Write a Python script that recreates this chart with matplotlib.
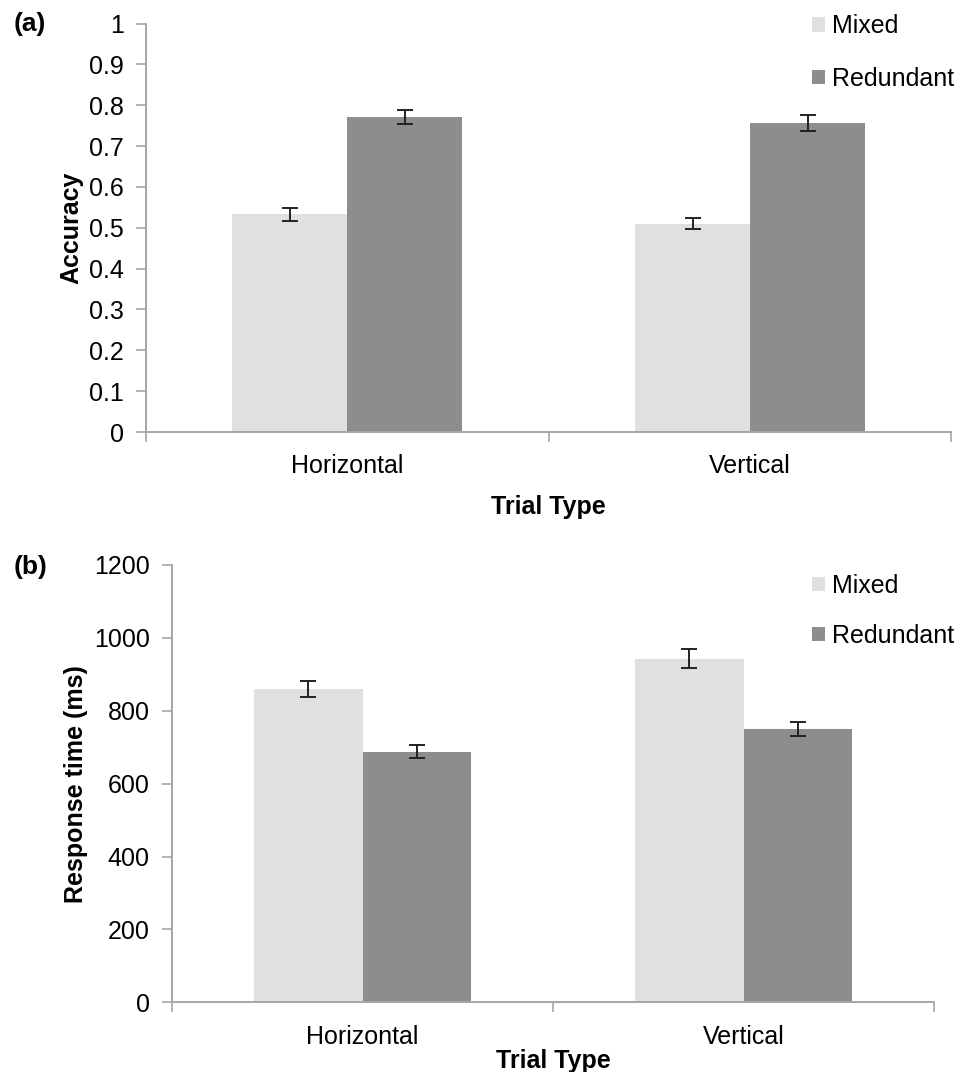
import matplotlib
matplotlib.use("Agg")
import matplotlib.pyplot as plt
import numpy as np
from matplotlib.patches import Patch

plt.rcParams["font.family"] = ["Liberation Sans", "DejaVu Sans"]

# data
trial_types = ["Horizontal", "Vertical"]
conditions = ["Mixed", "Redundant"]
acc_mixed = [0.533, 0.510]
acc_redundant = [0.772, 0.757]
acc_mixed_err = [0.016, 0.014]
acc_redundant_err = [0.017, 0.019]
rt_mixed = [860, 943]
rt_redundant = [688, 750]
rt_mixed_err = [22, 26]
rt_redundant_err = [19, 19]

C_MIX = "#e0e0e0"
C_RED = "#8d8d8d"
AXC = "#a6a6a6"
FS = 18


def panel(ax, mixed, red, mixed_err, red_err, yticks, ylabels, ylabel, xlabel_pad):
    x = np.arange(len(trial_types))
    w = 1 / 1.75 / 2
    for vals, errs, col, off in ((mixed, mixed_err, C_MIX, -w / 2),
                                 (red, red_err, C_RED, w / 2)):
        ax.bar(x + off, vals, width=w, color=col, edgecolor="none")
        ax.errorbar(x + off, vals, yerr=errs, fmt="none", ecolor="#222222",
                    elinewidth=1.4, capsize=5.5, capthick=1.4)
    ax.set_xlim(-0.5, len(trial_types) - 0.5)
    ax.set_ylim(yticks[0], yticks[-1])
    ax.set_yticks(yticks)
    ax.set_yticklabels(ylabels)
    # category boundaries carry the ticks, names sit at the centres
    ax.set_xticks(np.arange(-0.5, len(trial_types), 1.0))
    ax.set_xticklabels([])
    ax.set_xticks(x, minor=True)
    ax.set_xticklabels(trial_types, minor=True)
    ax.tick_params(axis="x", which="minor", length=0, labelsize=FS, pad=16)
    ax.tick_params(axis="x", which="major", length=7, color=AXC, width=1.2)
    ax.tick_params(axis="y", length=7, color=AXC, width=1.2, labelsize=FS, pad=9)
    for sp in ("top", "right"):
        ax.spines[sp].set_visible(False)
    for sp in ("left", "bottom"):
        ax.spines[sp].set_color(AXC)
        ax.spines[sp].set_linewidth(1.4)
    ax.set_ylabel(ylabel, fontsize=FS, fontweight="bold")
    ax.set_xlabel("Trial Type", fontsize=FS, fontweight="bold", labelpad=xlabel_pad)


fig = plt.figure(figsize=(9.61, 10.72), dpi=100)
ax_a = fig.add_axes([0.152, 0.597, 0.838, 0.381])
ax_b = fig.add_axes([0.179, 0.065, 0.793, 0.408])

panel(ax_a, acc_mixed, acc_redundant, acc_mixed_err, acc_redundant_err,
      np.round(np.arange(0, 1.01, 0.1), 1),
      ["0"] + [f"{v:.1f}" for v in np.arange(0.1, 0.95, 0.1)] + ["1"],
      "Accuracy", 12)
panel(ax_b, rt_mixed, rt_redundant, rt_mixed_err, rt_redundant_err,
      np.arange(0, 1201, 200), [str(v) for v in range(0, 1201, 200)],
      "Response time (ms)", 0)

handles = [Patch(facecolor=C_MIX, edgecolor="none"),
           Patch(facecolor=C_RED, edgecolor="none")]
for yy, spacing in ((0.996, 1.15), (0.474, 1.05)):
    fig.legend(handles, conditions, loc="upper left", bbox_to_anchor=(0.835, yy),
               frameon=False, fontsize=FS, handlelength=0.5, handleheight=0.5,
               handletextpad=0.3, labelspacing=spacing, borderaxespad=0)

fig.text(0.014, 0.978, "(a)", fontsize=19, fontweight="bold", va="center")
fig.text(0.014, 0.471, "(b)", fontsize=19, fontweight="bold", va="center")

fig.savefig("out.png", dpi=100)
